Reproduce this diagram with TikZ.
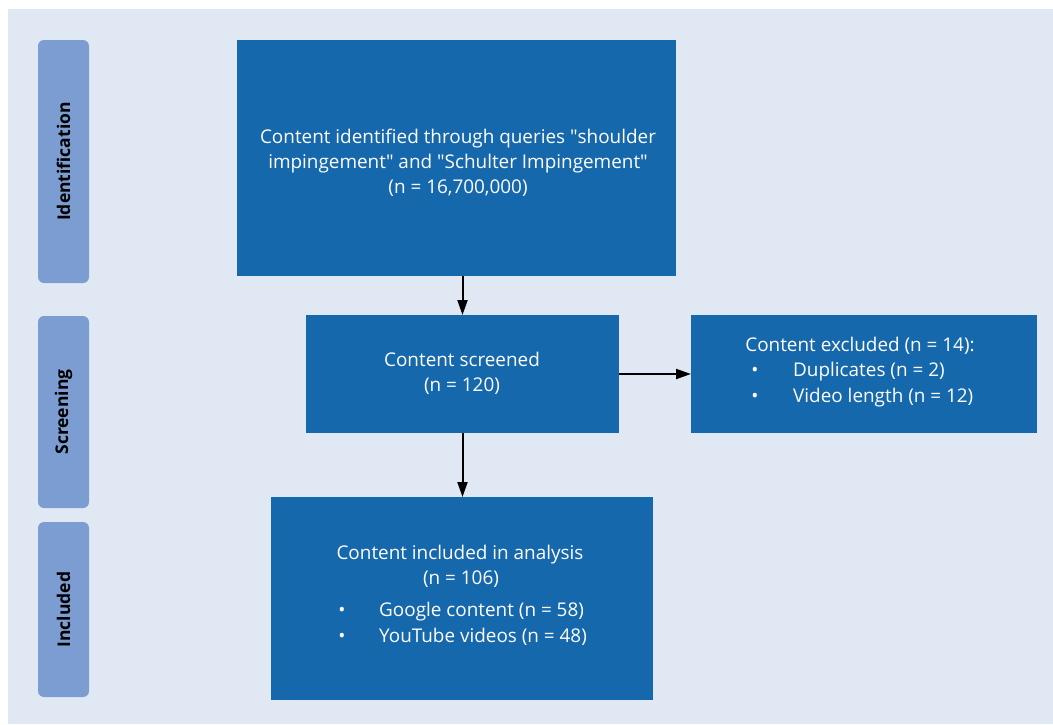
\documentclass[tikz,border=0pt]{standalone}
\usepackage{fontspec}
\setmainfont{Open Sans}
\usetikzlibrary{arrows.meta}
\definecolor{bg}{HTML}{E0E9F3}
\definecolor{boxblue}{HTML}{1668AD}
\definecolor{sideblue}{HTML}{7C9DD1}
\begin{document}
\begin{tikzpicture}[x=1pt,y=-1pt,
  box/.style={fill=boxblue, draw=none, inner sep=0pt, outer sep=0pt, anchor=north west},
  sidebox/.style={fill=sideblue, draw=none, rounded corners=6pt, inner sep=0pt, outer sep=0pt, anchor=north west, minimum width=51pt},
  txt/.style={text=white, font=\fontsize{18.9}{25}\selectfont, inner sep=0pt, anchor=base},
  ltxt/.style={txt, anchor=base west},
  sidetxt/.style={font=\bfseries\fontsize{17.5}{19}\selectfont, rotate=90, inner sep=0pt},
  arr/.style={-{Triangle[length=15pt,width=10pt]}, line width=2pt, black}]
\useasboundingbox (0,0) rectangle (1053,724);
\fill[bg] (8,9) rectangle (1053,724);
% side labels
\node[sidebox, minimum height=243pt] (s1) at (38,40) {};
\node[sidebox, minimum height=192pt] (s2) at (38,316) {};
\node[sidebox, minimum height=175pt] (s3) at (38,522) {};
\node[sidetxt] (l1) at (s1.center) {Identification};
\node[sidetxt] (l2) at (s2.center) {Screening};
\node[sidetxt] (l3) at (s3.center) {Included};
% boxes
\node[box, minimum width=439pt, minimum height=236pt] (b1) at (237,40) {};
\node[box, minimum width=313pt, minimum height=118pt] (b2) at (306,315) {};
\node[box, minimum width=346pt, minimum height=118pt] (b3) at (691,315) {};
\node[box, minimum width=382pt, minimum height=203pt] (b4) at (271,497) {};
% texts
\node[txt] (t11) at (458,143) {Content identified through queries \textquotedbl shoulder};
\node[txt] (t12) at (458,168) {impingement\textquotedbl{} and \textquotedbl Schulter Impingement\textquotedbl};
\node[txt] (t13) at (458,193) {(n = 16,700,000)};
\node[txt] (t21) at (462,366) {Content screened};
\node[txt] (t22) at (462,391) {(n = 120)};
\node[txt] (t31) at (860,351) {Content excluded (n = 14):};
\node[txt] (t32) at (755,376) {•};
\node[ltxt] (t33) at (793,376) {Duplicates (n = 2)};
\node[txt] (t34) at (755,402) {•};
\node[ltxt] (t35) at (793,402) {Video length (n = 12)};
\node[txt] (t41) at (460,559) {Content included in analysis};
\node[txt] (t42) at (461,584) {(n = 106)};
\node[txt] (t43) at (342,616) {•};
\node[ltxt] (t44) at (379,616) {Google content (n = 58)};
\node[txt] (t45) at (342,642) {•};
\node[ltxt] (t46) at (379,642) {YouTube videos (n = 48)};
% arrows
\draw[arr] (b1.south -| b2.north) -- (b2.north);
\draw[arr] (b2.south) -- (b2.south |- b4.north);
\draw[arr] (b2.east) -- (b2.east -| b3.west);
\end{tikzpicture}
\end{document}
